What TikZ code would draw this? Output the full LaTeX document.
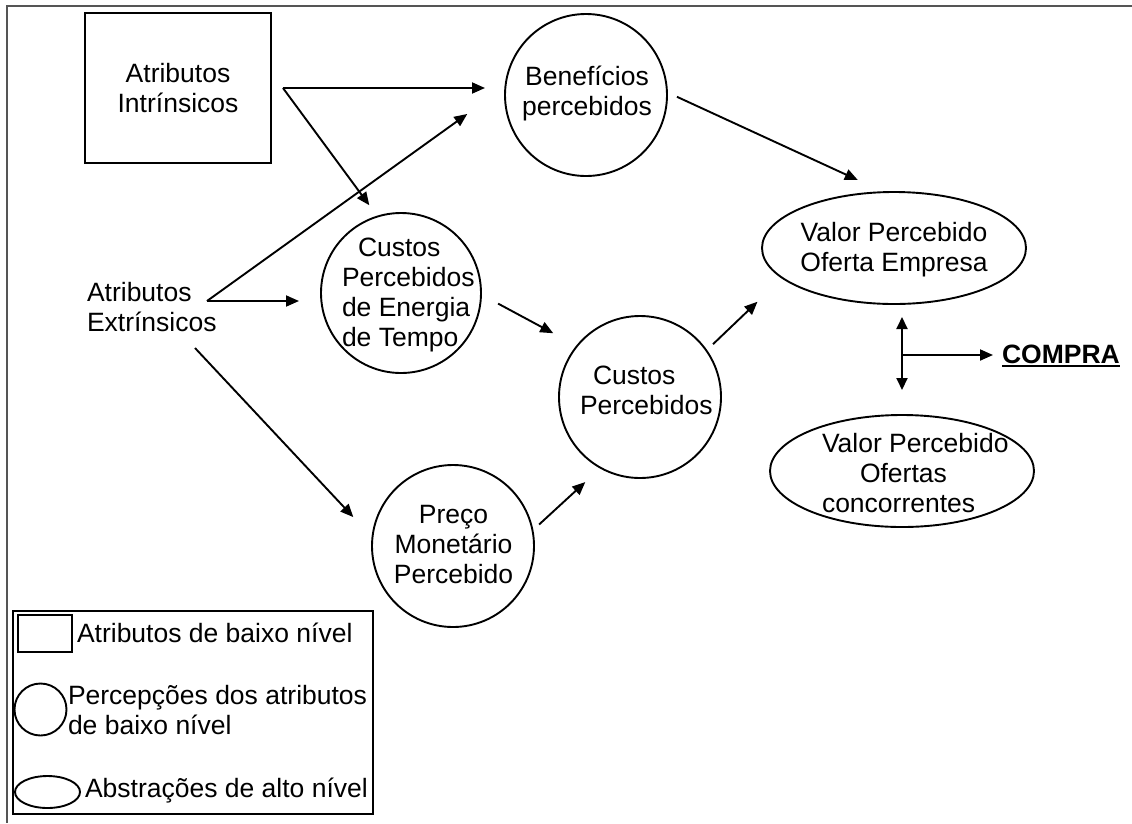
\documentclass[tikz,border=0pt]{standalone}
\usepackage{fontspec}
\setmainfont{Liberation Sans}
\usetikzlibrary{arrows.meta,shapes.geometric,calc}
\definecolor{framegray}{RGB}{85,85,85}
\begin{document}
\begin{tikzpicture}[x=1pt,y=-1pt,
  every node/.style={font=\fontsize{26.5}{30}\selectfont},
  lw/.style={line width=1.9pt},
  arr/.style={lw, -{Triangle[length=13pt,width=11pt]}},
  darr/.style={lw, {Triangle[length=12pt,width=11pt]}-{Triangle[length=12pt,width=11pt]}},
  circ/.style={circle, draw, lw, inner sep=0pt, outer sep=0pt, minimum size=#1},
  ell/.style={ellipse, draw, lw, inner sep=0pt, outer sep=0pt},
  txt/.style={inner sep=0pt, outer sep=0pt},
]
\useasboundingbox (0,0) rectangle (1132,823);
\draw[line width=2pt, framegray] (1132,6) -- (7,6) -- (7,823);

% shapes
\node[draw, lw, minimum width=186pt, minimum height=150pt, align=center, inner sep=0pt] (intr) at (178,88) {Atributos\\Intrínsicos};
\node[circ=162pt] (benef) at (586,95) {};
\node[txt, align=center] (beneft) at (587,93) {Benefícios\\percebidos};
\node[txt, align=left, anchor=west] (extr) at (87,307.4) {Atributos\\Extrínsicos};
\node[circ=160pt] (ce) at (401,293) {};
\node[txt, align=left, anchor=west] (cet) at (342,295) {\hspace*{16pt}Custos\\Percebidos\\de Energia\\de Tempo};
\node[circ=162pt] (cp) at (640,397) {};
\node[txt, align=left, anchor=west] (cpt) at (580,390.4) {\hspace*{13pt}Custos\\Percebidos};
\node[circ=162pt] (preco) at (453,546) {};
\node[txt, align=center] (precot) at (453.5,544.5) {Preço\\Monetário\\Percebido};
\node[ell, minimum width=264pt, minimum height=112pt] (vpe) at (894,248) {};
\node[txt, align=center] (vpet) at (894,250) {Valor Percebido\\Oferta Empresa};
\node[ell, minimum width=264pt, minimum height=112pt] (vpc) at (902,471) {};
\node[txt, align=left, anchor=west] (vpct) at (822,473) {Valor Percebido\\\hspace*{38pt}Ofertas\\concorrentes};
\node[txt, font=\fontsize{26.5}{30}\selectfont\bfseries, anchor=base west] (compra) at (1002,363) {COMPRA};
\draw[line width=1.5pt] ([yshift=-3pt]compra.base west) -- ([yshift=-3pt]compra.base east);

% branch points
\coordinate (introut) at ([xshift=11pt]intr.east);
\coordinate (extrout) at (207,301);
\coordinate (extrlow) at (195,348);
\coordinate (jn) at (902,355);

% connectors
\draw[arr, shorten >=20pt] (introut) -- (introut -| benef.west);
\draw[arr, shorten >=14pt] (introut) -- (ce.107);
\draw[arr, shorten >=22pt] (extrout) -- (extrout -| ce.west);
\draw[arr, shorten >=47pt] (extrout) -- (benef.174);
\draw[arr, shorten >=28pt] (extrlow) -- (preco.174);
\draw[arr, shorten <=11pt, shorten >=29pt] (benef.2) -- (vpe.100);
\draw[arr, shorten <=19.4pt, shorten >=27pt] (ce.-1.2) -- (cp.141.7);
\draw[arr, shorten <=8.9pt, shorten >=21pt] (preco.11.4) -- (cp.241);
\draw[arr, shorten <=9.3pt, shorten >=34.5pt] (cp.35.2) -- (vpe.195.4);
\draw[darr, shorten <=13pt, shorten >=25pt] (jn |- vpe.south) -- (jn |- vpc.north);
\draw[arr, shorten >=9pt] (jn) -- (jn -| compra.west);

% legend
\node[draw, lw, minimum width=360pt, minimum height=203pt, inner sep=0pt] (legend) at (193,712.5) {};
\node[draw, lw, minimum width=54pt, minimum height=37pt, inner sep=0pt] (legsq) at (45,633.5) {};
\node[circ=52pt] (legcirc) at (40.5,709.5) {};
\node[ell, minimum width=65pt, minimum height=32pt] (legell) at (47.5,792) {};
\node[txt, anchor=base west] (legt1) at (77,642) {Atributos de baixo nível};
\node[txt, align=left, anchor=west] (legt2) at (68,710) {Percepções dos atributos\\de baixo nível};
\node[txt, anchor=base west] (legt3) at (85,797) {Abstrações de alto nível};
\end{tikzpicture}
\end{document}
